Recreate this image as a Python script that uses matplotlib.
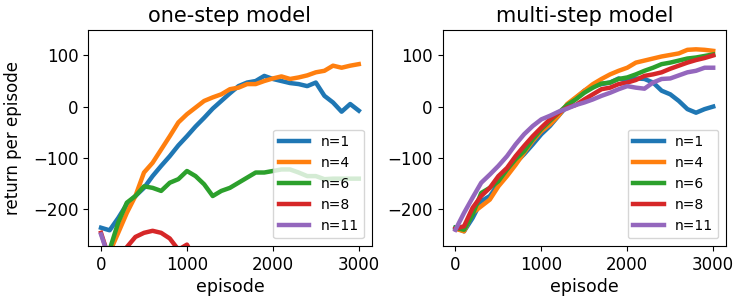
import matplotlib.pyplot as plt

# episode grid (every 100 episodes)
episodes = list(range(0, 3001, 100))
labels = ['n=1', 'n=4', 'n=6', 'n=8', 'n=11']

# one-step model returns
one_n1 = [-237, -242, -218, -191, -175, -159, -136, -116, -97, -76, -58, -39, -22, -4, 11, 26,
          40, 47, 50, 60, 54, 50, 46, 44, 40, 47, 21, 8, -10, 5, -8]
one_n4 = [-300, -285, -247, -208, -175, -129, -110, -84, -58, -31, -15, -2, 11, 18, 24, 34,
          37, 44, 44, 50, 55, 59, 54, 57, 61, 67, 70, 80, 76, 80, 83]
one_n6 = [-300, -280, -227, -188, -175, -156, -159, -165, -149, -142, -126, -136, -152, -175, -165, -159,
          -149, -139, -129, -129, -126, -123, -123, -129, -136, -136, -142, -141, -141, -141, -141]
one_n8 = [-247, -300, -300, -275, -255, -247, -243, -247, -258, -280, -270, -300, -300, -300, -300, -300,
          -300, -300, -300, -300, -300, -300, -300, -300, -300, -300, -300, -300, -300, -300, -300]
one_n11 = [-250, -300, -300, -300, -300, -300, -300, -300, -300, -300, -300, -300, -300, -300, -300, -300,
           -300, -300, -300, -300, -300, -300, -300, -300, -300, -300, -300, -300, -300, -300, -300]

# multi-step model returns
multi_n1 = [-237, -244, -218, -185, -175, -152, -129, -110, -93, -74, -54, -38, -18, 1, 16, 31,
            40, 44, 47, 55, 50, 55, 54, 47, 31, 24, 11, -5, -12, -5, 0]
multi_n4 = [-239, -244, -208, -195, -182, -156, -136, -114, -90, -67, -48, -35, -18, 5, 18, 31,
            44, 54, 63, 70, 76, 86, 90, 94, 98, 101, 104, 111, 112, 111, 109]
multi_n6 = [-237, -241, -211, -169, -159, -146, -123, -103, -87, -64, -44, -28, -12, 3, 14, 27,
            37, 45, 47, 54, 57, 63, 70, 76, 83, 86, 90, 94, 96, 99, 102]
multi_n8 = [-239, -234, -198, -175, -159, -136, -120, -97, -77, -58, -41, -25, -12, -2, 3, 14,
            24, 34, 37, 44, 47, 52, 60, 63, 67, 74, 80, 86, 91, 95, 100]
multi_n11 = [-241, -208, -178, -149, -133, -116, -97, -74, -54, -38, -25, -18, -10, -4, 3, 8,
             14, 21, 27, 34, 40, 37, 35, 47, 54, 55, 61, 67, 70, 76, 76]

one_step = [one_n1, one_n4, one_n6, one_n8, one_n11]
multi_step = [multi_n1, multi_n4, multi_n6, multi_n8, multi_n11]

fig, axes = plt.subplots(1, 2, figsize=(7.47, 3.05), dpi=100)
fig.subplots_adjust(left=0.118, right=0.972, top=0.902, bottom=0.193, wspace=0.25)

for ax, data, title in zip(axes, [one_step, multi_step], ['one-step model', 'multi-step model']):
    for series, lab in zip(data, labels):
        ax.plot(episodes, series, lw=3.2, label=lab)
    ax.set_ylim(-273, 150)
    ax.set_xlim(-150, 3150)
    ax.set_yticks([-200, -100, 0, 100])
    ax.set_xticks([0, 1000, 2000, 3000])
    ax.set_title(title, fontsize=15, pad=6)
    ax.set_xlabel('episode', fontsize=12.5, labelpad=3)
    ax.tick_params(labelsize=12)
    ax.legend(loc='lower right', fontsize=10, handlelength=2.2, borderaxespad=0.55)

axes[0].set_ylabel('return per episode', fontsize=12, labelpad=8)

plt.savefig('out.png', dpi=100)
